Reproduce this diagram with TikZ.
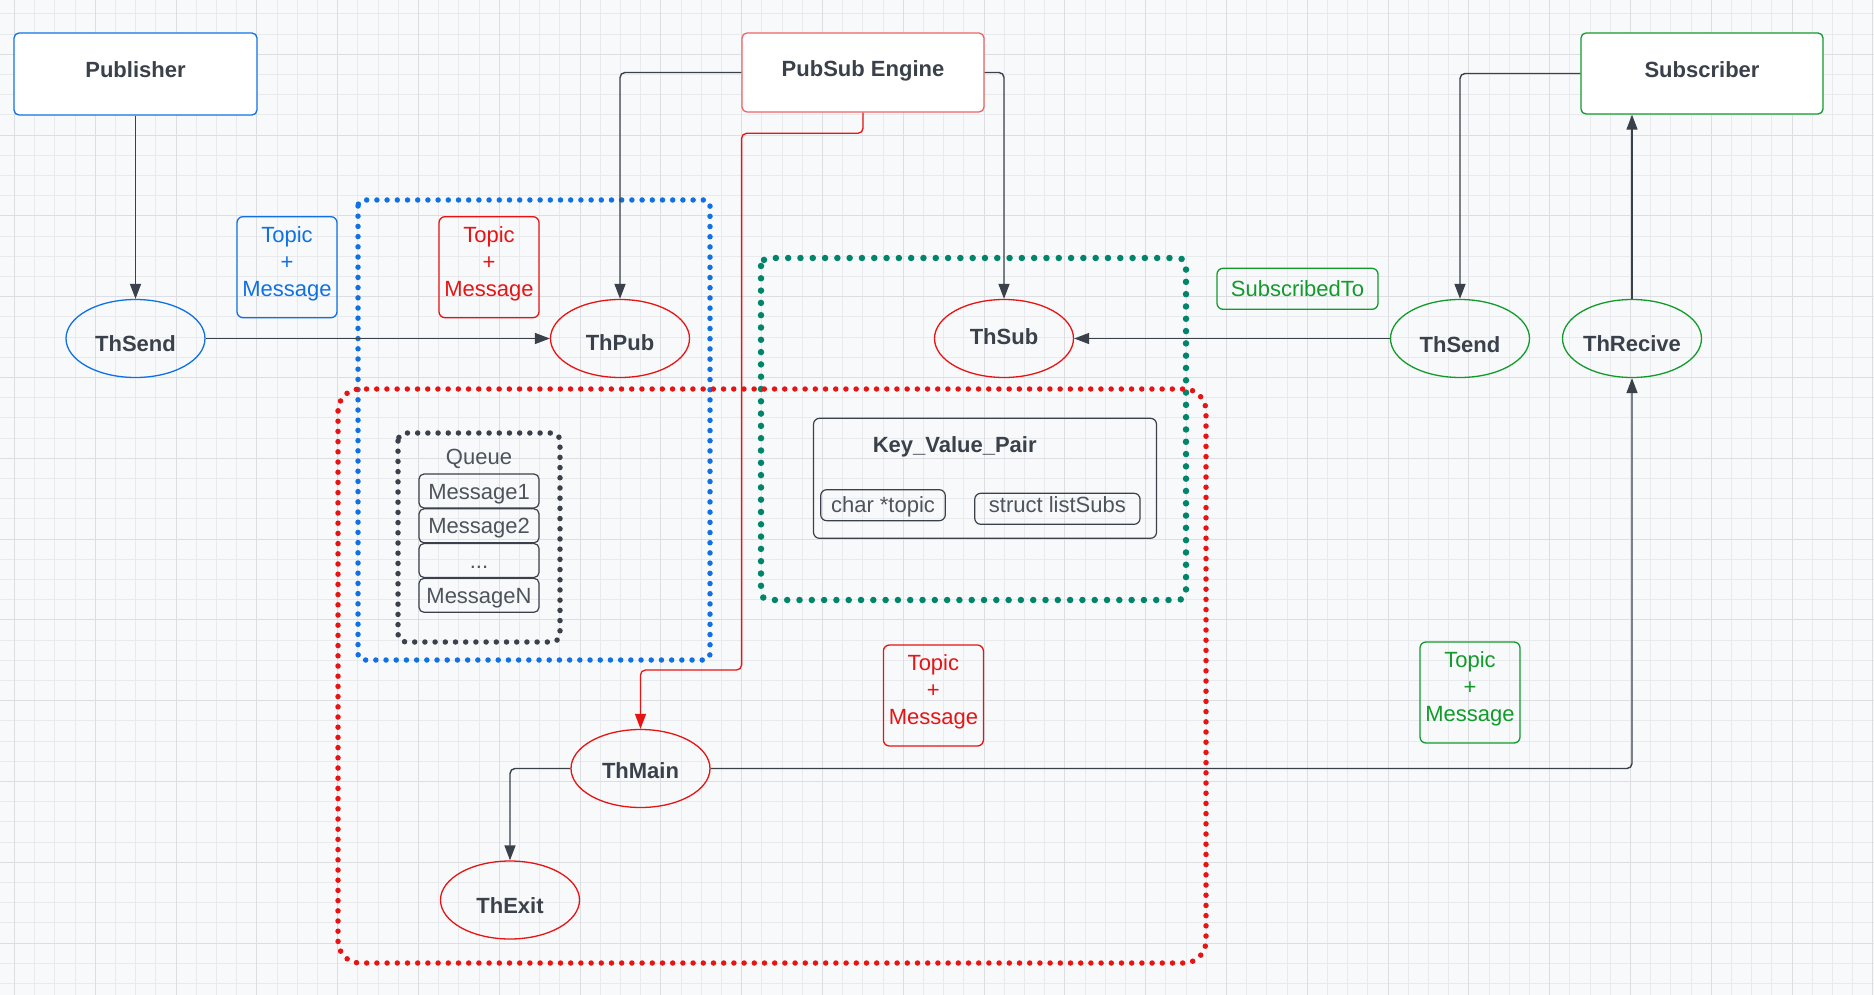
\documentclass[tikz,border=0pt]{standalone}
\usepackage{fontspec}
\setmainfont{Liberation Sans}
\usetikzlibrary{arrows.meta,shapes.geometric}
\definecolor{bg}{HTML}{F8F9FB}
\definecolor{gridminor}{HTML}{E8EAED}
\definecolor{gridmajor}{HTML}{DCDEE2}
\definecolor{ink}{HTML}{3A414A}
\definecolor{lblue}{HTML}{1071E5}
\definecolor{lred}{HTML}{E81313}
\definecolor{lsalmon}{HTML}{EF6363}
\definecolor{lgreen}{HTML}{129B2A}
\definecolor{lteal}{HTML}{00856A}
\tikzset{
  basefont/.style={font=\fontsize{22}{27}\selectfont},
  boldfont/.style={font=\fontsize{22}{27}\selectfont\bfseries},
  titlebox/.style={draw, fill=white, line width=1.3pt, rounded corners=5pt, inner sep=0pt,
    minimum width=242pt, minimum height=80pt, boldfont, text=ink, text height=7.4pt, text depth=0pt},
  thread/.style={ellipse, draw, line width=1.3pt, inner sep=0pt, minimum width=139pt,
    minimum height=78pt, boldfont, text=ink, text depth=0pt},
  tmbox/.style={draw, line width=1.3pt, rounded corners=6pt, inner sep=0pt, minimum width=100pt,
    minimum height=101pt, basefont, align=center, text depth=12pt},
  qitem/.style={draw=ink, line width=1.2pt, rounded corners=5pt, inner sep=0pt, minimum width=120pt,
    minimum height=34pt, basefont, text=ink!90, text height=16pt, text depth=0pt},
  fieldbox/.style={draw=ink, line width=1.2pt, rounded corners=6pt, inner sep=0pt,
    minimum height=31pt, basefont, text=ink!90, text height=15pt, text depth=0pt},
  conn/.style={draw=ink, line width=1.4pt, rounded corners=5pt, -{Triangle[length=15pt,width=11pt]}},
  dotline/.style={line width=5.5pt, line cap=round, dash pattern=on 0pt off 10.2pt},
  bigdot/.style={line width=6.5pt, line cap=round, dash pattern=on 0pt off 12.3pt}
}
\begin{document}
\begin{tikzpicture}[x=1pt,y=-1pt]
\useasboundingbox (0,0) rectangle (1874,995);
\fill[bg] (0,0) rectangle (1874,995);
% grid
\foreach \i in {0,...,92} \draw[gridminor, line width=1pt] ({14.5+20.2*\i},0) -- ({14.5+20.2*\i},995);
\foreach \j in {0,...,48} \draw[gridminor, line width=1pt] (0,{13.9+20.2*\j}) -- (1874,{13.9+20.2*\j});
\foreach \i in {0,...,23} \draw[gridmajor, line width=1pt] ({14.5+80.8*\i},0) -- ({14.5+80.8*\i},995);
\foreach \j in {0,...,11} \draw[gridmajor, line width=1pt] (0,{54.3+80.8*\j}) -- (1874,{54.3+80.8*\j});

% dotted containers
\draw[lblue, dotline, rounded corners=6pt] (358,200) rectangle (710,660);
\draw[lteal, bigdot, rounded corners=8pt] (761,258) rectangle (1186,600);
\draw[ink, dotline, rounded corners=8pt] (398,433) rectangle (560,642);
\draw[lred, dotline, rounded corners=22pt] (338,389) rectangle (1206,963);

% title boxes
\node[titlebox, draw=lblue, minimum width=243pt, minimum height=82pt] (pub) at (135.5,74) {Publisher};
\node[titlebox, draw=lsalmon, minimum width=242pt, minimum height=79pt] (eng) at (863,72.5) {PubSub Engine};
\node[titlebox, draw=lgreen, minimum width=242pt, minimum height=81pt] (sub) at (1702,73.5) {Subscriber};

% threads
\node[thread, draw=lblue, text height=26.4pt] (thsendL) at (135.5,338.5) {ThSend};
\node[thread, draw=lred, text height=24.8pt] (thpub) at (620,338.5) {ThPub};
\node[thread, draw=lred, text height=11pt] (thsub) at (1004,338.5) {ThSub};
\node[thread, draw=lgreen, text height=27pt] (thsendR) at (1460,338.5) {ThSend};
\node[thread, draw=lgreen, text height=26pt] (threc) at (1632,338.5) {ThRecive};
\node[thread, draw=lred, text height=19pt] (thmain) at (640.5,768.5) {ThMain};
\node[thread, draw=lred, text height=26.6pt] (thexit) at (510,900) {ThExit};

% topic + message labels
\node[tmbox, draw=lblue, text=lblue] (tmblue) at (287,267.2) {Topic\\+\\Message};
\node[tmbox, draw=lred, text=lred] (tmred) at (489,267.2) {Topic\\+\\Message};
\node[tmbox, draw=lred, text=lred] (tmred2) at (933.4,695.5) {Topic\\+\\Message};
\node[tmbox, draw=lgreen, text=lgreen] (tmgreen) at (1470,692.5) {Topic\\+\\Message};
\node[draw=lgreen, line width=1.3pt, rounded corners=6pt, inner sep=0pt, minimum width=161pt,
  minimum height=41pt, basefont, text=lgreen, text height=15pt, text depth=0pt] (subto) at (1297.5,288.8) {SubscribedTo};

% queue
\node[basefont, text=ink!90, anchor=base] (qlabel) at (479,464.3) {Queue};
\node[qitem] (m1) at (479,491) {Message1};
\node[qitem] (m2) at (479,525.8) {Message2};
\node[qitem] (m3) at (479,560.5) {...};
\node[qitem] (mn) at (479,595.3) {MessageN};

% key value pair
\node[draw=ink, line width=1.2pt, rounded corners=6pt, inner sep=0pt, minimum width=343pt,
  minimum height=120pt] (kvp) at (985,478.3) {};
\node[font=\fontsize{22}{26}\selectfont\bfseries, text=ink, anchor=base] (kvtitle) at (954.7,452.7) {Key\_Value\_Pair};
\node[fieldbox, minimum width=124.6pt] (ftopic) at (883,505.2) {char *topic};
\node[fieldbox, minimum width=165.3pt, text height=7.8pt] (fsubs) at (1057.4,508.8) {struct listSubs};

% helper coordinates
\coordinate (r1) at (741.6,133.3);
\coordinate (r2) at (741.6,670);

% connectors
\draw[conn] (pub.south) -- (thsendL.north);
\draw[conn] (thsendL.east) -- (thpub.west);
\draw[conn] (eng.west) -| (thpub.north);
\draw[conn] (eng.east) -| (thsub.north);
\draw[conn, draw=lred, line width=1.3pt, -{Triangle[length=15pt,width=11pt,fill=lred]}] (eng.south) |- (r1) -- (r2) -| (thmain.north);
\draw[conn] (sub.west) -| (thsendR.north);
\draw[conn] (thsendR.west) -- (thsub.east);
\draw[conn] (threc.north) -- (threc.north |- sub.south);
\draw[conn] (thmain.east) -| (threc.south);
\draw[conn] (thmain.west) -| (thexit.north);
\end{tikzpicture}
\end{document}
